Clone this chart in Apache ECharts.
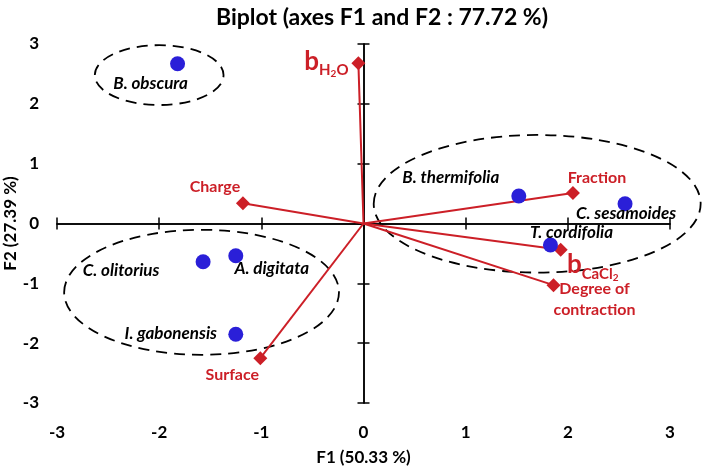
<!DOCTYPE html>
<html>
<head>
<meta charset="utf-8">
<script src="https://cdn.jsdelivr.net/npm/echarts@6/dist/echarts.min.js"></script>
<style>html,body{margin:0;padding:0;background:#fff}#c{width:703px;height:468px}</style>
</head>
<body>
<div id="c"></div>
<script>
// Observations (species)
const obsNames = ['B. obscura','B. thermifolia','C. sesamoides','T. cordifolia','A. digitata','C. olitorius','I. gabonensis'];
const obsF1 = [-1.82, 1.52, 2.56, 1.83, -1.25, -1.57, -1.25];
const obsF2 = [2.67, 0.46, 0.33, -0.36, -0.54, -0.64, -1.85];
// Variables
const varNames = ['bH2O','Fraction','Charge','bCaCl2','Degree of contraction','Surface'];
const varF1 = [-0.05, 2.05, -1.18, 1.93, 1.86, -1.01];
const varF2 = [2.68, 0.51, 0.34, -0.44, -1.03, -2.25];
// Group ellipses: centre F1, centre F2, radius F1, radius F2
const ellCx = [-2.00, 1.70, -1.585];
const ellCy = [2.48, 0.33, -1.15];
const ellRx = [0.63, 1.60, 1.345];
const ellRy = [0.50, 1.15, 1.045];
// Axis ticks
const axisMin = -3, axisMax = 3, axisStep = 1;

// label styling (offsets in px)
const obsLabelOffset = [[-27,20],[-68,-18],[1,10],[21,-13],[36,13],[-82,9],[-65,-1]];
const varLabelOffset = [[-32,-2],[24,-15],[-28,-16],[32,15],[41,14],[-28,17]];
const varFormat = {
  'bH2O': '{b|b}{s|H}{ss|2}{s|O}',
  'bCaCl2': '{b|b}{s|CaCl}{ss|2}',
  'Degree of contraction': '{t|Degree of}\n{t|contraction}'
};

const RED = '#cc1f27', BLUE = '#2a1fd8';
const FONT = 'Lato';

const chart = echarts.init(document.getElementById('c'), null, {renderer:'canvas'});

function valAxis(extra){
  return Object.assign({
    type:'value', min:axisMin, max:axisMax, interval:axisStep,
    splitLine:{show:false}
  }, extra);
}
const lineStyle = {color:'#000', width:1.5};

const xAxes = [
  valAxis({position:'bottom', axisLine:{show:false, onZero:false}, axisTick:{show:false},
    axisLabel:{color:'#000', fontSize:17, fontWeight:'bold', fontFamily:FONT, margin:21},
    name:'F1 (50.33 %)', nameLocation:'middle', nameGap:46, nameMoveOverlap:false,
    nameTextStyle:{color:'#000', fontSize:17, fontWeight:'bold', fontFamily:FONT}}),
  valAxis({position:'bottom', axisLine:{show:true, onZero:true, onZeroAxisIndex:0, lineStyle}, 
    axisTick:{show:true, inside:false, length:6, lineStyle}, axisLabel:{show:false}}),
  valAxis({position:'bottom', axisLine:{show:true, onZero:true, onZeroAxisIndex:0, lineStyle},
    axisTick:{show:true, inside:true, length:6, lineStyle}, axisLabel:{show:false}})
];
const yAxes = [
  valAxis({position:'left', axisLine:{show:false, onZero:false}, axisTick:{show:false},
    axisLabel:{color:'#000', fontSize:17, fontWeight:'bold', fontFamily:FONT, margin:18},
    name:'F2 (27.39 %)', nameLocation:'middle', nameGap:38, nameRotate:90, nameMoveOverlap:false,
    nameTextStyle:{color:'#000', fontSize:17, fontWeight:'bold', fontFamily:FONT}}),
  valAxis({position:'left', axisLine:{show:true, onZero:true, onZeroAxisIndex:0, lineStyle},
    axisTick:{show:true, inside:false, length:6, lineStyle}, axisLabel:{show:false}}),
  valAxis({position:'left', axisLine:{show:true, onZero:true, onZeroAxisIndex:0, lineStyle},
    axisTick:{show:true, inside:true, length:6, lineStyle}, axisLabel:{show:false}})
];

const ellData = ellCx.map((c,i)=>[c, ellCy[i], ellRx[i], ellRy[i]]);
const varData = varNames.map((n,i)=>({
  name:n, value:[varF1[i], varF2[i]],
  label:{offset:varLabelOffset[i]}
}));
const obsData = obsNames.map((n,i)=>({
  name:n, value:[obsF1[i], obsF2[i]],
  label:{offset:obsLabelOffset[i]}
}));

chart.setOption({
  animation:false,
  title:{text:'Biplot (axes F1 and F2 : 77.72 %)', left:377, top:1, textAlign:'center',
    textStyle:{fontSize:23, fontWeight:'bold', color:'#000', fontFamily:FONT}},
  grid:{left:57, right:33, top:44, bottom:65, containLabel:false, outerBoundsMode:'none'},
  xAxis:xAxes, yAxis:yAxes,
  series:[
    {
      type:'custom', name:'groups', clip:false, z:1,
      data:ellData, encode:{x:0, y:1},
      renderItem:function(params, api){
        const c = api.coord([api.value(0), api.value(1)]);
        const s = api.size([api.value(2), api.value(3)]);
        return {type:'ellipse', shape:{cx:c[0], cy:c[1], rx:s[0], ry:s[1]},
          style:{fill:null, stroke:'#000', lineWidth:1.8, lineDash:[11,7]}};
      }
    },
    {
      type:'custom', name:'vectors', clip:false, z:2,
      data:varNames.map((n,i)=>[varF1[i], varF2[i]]), encode:{x:0, y:1},
      renderItem:function(params, api){
        const o = api.coord([0,0]);
        const p = api.coord([api.value(0), api.value(1)]);
        return {type:'line', shape:{x1:o[0], y1:o[1], x2:p[0], y2:p[1]},
          style:{stroke:RED, lineWidth:2}};
      }
    },
    {
      type:'scatter', name:'Variables', symbol:'diamond', symbolSize:14, z:3,
      itemStyle:{color:RED, opacity:1},
      data:varData,
      label:{show:true, position:'inside', color:RED, opacity:1, fontSize:16, fontWeight:'bold', fontFamily:FONT,
        formatter:function(p){ return varFormat[p.name] || p.name; },
        rich:{
          b:{fontSize:26, fontWeight:'bold', color:RED, fontFamily:FONT, lineHeight:26, verticalAlign:'bottom'},
          s:{fontSize:15, fontWeight:'bold', color:RED, fontFamily:FONT, lineHeight:15, verticalAlign:'bottom', padding:[0,0,-4,0]},
          ss:{fontSize:10, fontWeight:'bold', color:RED, fontFamily:FONT, lineHeight:10, verticalAlign:'bottom', padding:[0,0,-5,0]},
          t:{fontSize:16, fontWeight:'bold', color:RED, fontFamily:FONT, lineHeight:21, align:'center'}
        }
      }
    },
    {
      type:'scatter', name:'Observations', symbol:'circle', symbolSize:15, z:4,
      itemStyle:{color:BLUE, opacity:1},
      data:obsData,
      label:{show:true, position:'inside', color:'#000', opacity:1, fontSize:17, fontWeight:'bold', fontStyle:'italic', fontFamily:FONT,
        formatter:'{b}'}
    }
  ]
});
</script>
</body>
</html>
